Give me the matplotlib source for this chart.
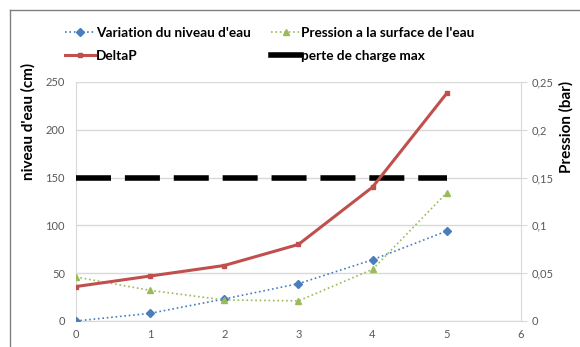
import matplotlib
matplotlib.use("Agg")
import matplotlib.pyplot as plt
from matplotlib.lines import Line2D

x = [0, 1, 2, 3, 4, 5]
niveau_cm = [0, 8, 23, 39, 64, 94]
pression_bar = [0.046, 0.032, 0.022, 0.021, 0.054, 0.134]
deltap_bar = [0.036, 0.047, 0.058, 0.080, 0.140, 0.238]
perte_max_bar = [0.15, 0.15]
perte_x = [0, 5]

left_ticks = [0, 50, 100, 150, 200, 250]
right_ticks = [0, 0.05, 0.1, 0.15, 0.2, 0.25]
right_labels = ["0", "0,05", "0,1", "0,15", "0,2", "0,25"]
x_ticks = [0, 1, 2, 3, 4, 5, 6]

plt.rcParams['font.family'] = ['Lato', 'DejaVu Sans']

fig = plt.figure(figsize=(5.8, 3.47), dpi=100)
ax = fig.add_axes([0.131, 0.075, 0.767, 0.689])
ax2 = ax.twinx()

grey = "#d9d9d9"
tick_col = "#595959"

ax.set_xlim(0, 6)
ax.set_ylim(0, 250)
ax2.set_ylim(0, 0.25)
ax.set_yticks(left_ticks)
ax.set_xticks(x_ticks)
ax2.set_yticks(right_ticks)
ax2.set_yticklabels(right_labels)
ax.yaxis.grid(True, color=grey, linewidth=1)
ax.set_axisbelow(True)

for a in (ax, ax2):
    for s in a.spines.values():
        s.set_visible(False)
ax.spines['left'].set_visible(True)
ax.spines['left'].set_color(grey)
ax.spines['bottom'].set_visible(True)
ax.spines['bottom'].set_color(grey)
ax2.spines['right'].set_visible(True)
ax2.spines['right'].set_color(grey)

ax.tick_params(axis='y', length=0, labelsize=8, labelcolor=tick_col, pad=8)
ax.tick_params(axis='x', length=0, labelsize=8, labelcolor=tick_col, pad=6)
ax2.tick_params(axis='y', length=4, color=grey, labelsize=8, labelcolor=tick_col, pad=4)

lw_d = 4
ax2.plot(perte_x, perte_max_bar, color='black', linewidth=lw_d,
         dashes=(25.2 / lw_d, 10.0 / lw_d), zorder=2)
ax.plot(x, niveau_cm, color='#4a7ebb', linestyle=':', linewidth=1.2,
        marker='D', markersize=4, zorder=3)
ax2.plot(x, pression_bar, color='#9bbb59', linestyle=':', linewidth=1.2,
         marker='^', markersize=5, zorder=3)
ax2.plot(x, deltap_bar, color='#c0504d', linestyle='-', linewidth=2.2,
         marker='s', markersize=2.5, zorder=4)

ax.set_ylabel("niveau d'eau (cm)", fontsize=11, fontweight='bold')
ax.yaxis.set_label_coords(-0.09, 0.833)
ax2.set_ylabel("Pression (bar)", fontsize=11, fontweight='bold')
ax2.yaxis.set_label_coords(1.085, 0.81)

handles = [
    Line2D([], [], color='#4a7ebb', linestyle=':', linewidth=1.2, marker='D', markersize=4),
    Line2D([], [], color='#c0504d', linestyle='-', linewidth=2.2, marker='s', markersize=2.5),
    Line2D([], [], color='#9bbb59', linestyle=':', linewidth=1.2, marker='^', markersize=5),
    Line2D([], [], color='black', linewidth=4),
]
labels = ["Variation du niveau d'eau", "DeltaP", "Pression a la surface de l'eau", "perte de charge max"]
leg = fig.legend(handles, labels, ncol=2, loc='upper left', bbox_to_anchor=(0.091, 0.957),
                 frameon=False, prop={'weight': 'bold', 'size': 9.8},
                 handlelength=2.2, handletextpad=0.05, columnspacing=1.5, labelspacing=0.8)

# outer frame (left and top visible)
fig.add_artist(Line2D([0.017, 0.017], [0, 0.971], color='#808080', linewidth=1, transform=fig.transFigure))
fig.add_artist(Line2D([0.017, 1.0], [0.971, 0.971], color='#808080', linewidth=1, transform=fig.transFigure))

fig.savefig("out.png", dpi=100)
